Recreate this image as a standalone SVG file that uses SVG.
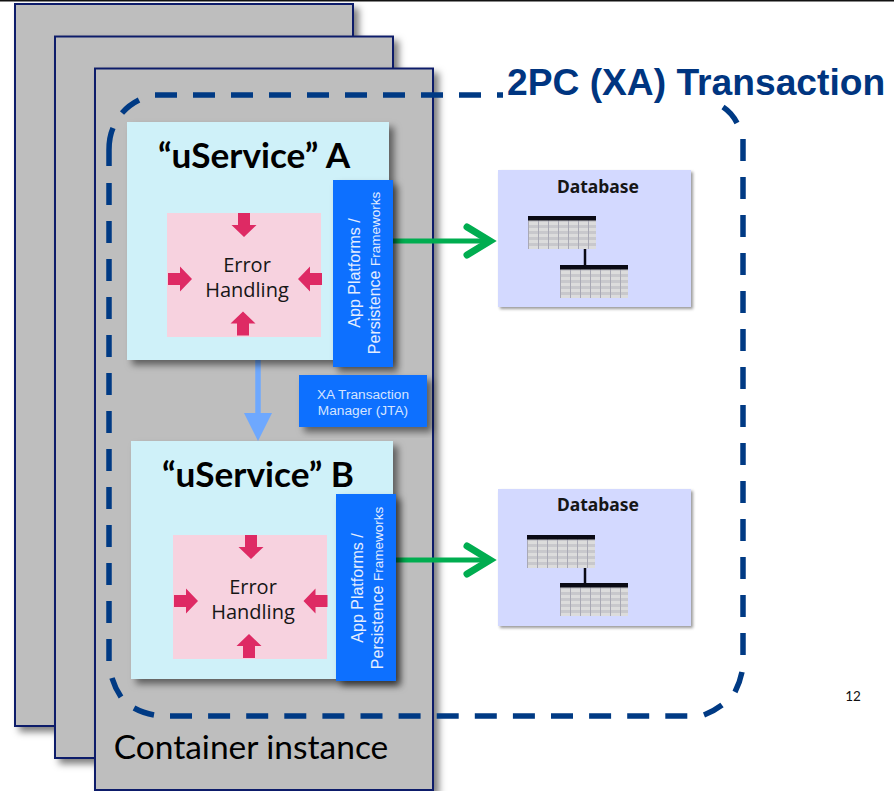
<svg xmlns="http://www.w3.org/2000/svg" width="894" height="791" viewBox="0 0 894 791">
<defs>
<filter id="sh" x="-20%" y="-20%" width="140%" height="140%"><feDropShadow dx="5" dy="5" stdDeviation="3.5" flood-color="#000" flood-opacity="0.5"/></filter>
<filter id="shl" x="-20%" y="-20%" width="140%" height="140%"><feDropShadow dx="2" dy="2" stdDeviation="1.5" flood-color="#000" flood-opacity="0.4"/></filter>
<pattern id="grid" width="10" height="6" patternUnits="userSpaceOnUse"><rect width="10" height="6" fill="#dcdcdc"/><rect y="3" width="10" height="3" fill="#c8c8cc"/><rect width="1" height="6" fill="#a9a9b5"/></pattern>
<g id="ar"><path d="M-6 -12H6V0H12.5L0 12L-12.5 0H-6Z" fill="#de2a64"/></g>
<g id="tbl"><rect x="0" y="0" width="68" height="33" fill="url(#grid)"/><rect x="0" y="0" width="68" height="4.5" fill="#0a0a14"/></g>
</defs>
<style>
.ct{fill:#bebebe;stroke:#0f1f6b;stroke-width:2;filter:url(#sh)}
.sv{fill:#cff1f9;filter:url(#sh)}
.eh{fill:#f7d2df}
.bl{fill:#0f6fff;filter:url(#sh)}
.db{fill:#d3d9ff;filter:url(#shl)}
.t1{font:700 35.2px Lato,"Liberation Sans",sans-serif;fill:#000;text-anchor:middle}
.t2{font:20px "Open Sans","Noto Sans",sans-serif;fill:#161616;text-anchor:middle}
.t3{font:16px "Liberation Sans",Arial,sans-serif;fill:#e3edff;text-anchor:middle}
.t4{font:13.7px "Liberation Sans",Arial,sans-serif;fill:#d5e4ff;text-anchor:middle}
.t5{font:700 17.5px "Noto Sans",sans-serif;fill:#161616;text-anchor:middle}
.gl{fill:none;stroke:#00ad50;stroke-width:5}
.gh{fill:none;stroke:#00ad50;stroke-width:7;stroke-linecap:round}
.ds{fill:none;stroke:#003a84;stroke-width:5.5}
.dd{stroke-dasharray:22 16}
</style>
<rect width="894" height="791" fill="#fff"/>
<rect x="0" y="0" width="894" height="1.5" fill="#111"/>
<g id="container-3"><rect class="ct" x="15" y="4" width="338" height="722"/></g>
<g id="container-2"><rect class="ct" x="55" y="36.5" width="338" height="721.5"/></g>
<g id="container-1"><rect class="ct" x="95" y="68.5" width="338" height="721.5"/><text x="251" y="759" font-family="Lato,'Liberation Sans',sans-serif" font-size="33.5" fill="#000" text-anchor="middle">Container instance</text></g>
<g id="connectors">
<path class="ds dd" d="M155 95H503"/>
<path class="ds dd" d="M743 139V656"/>
<path class="ds" style="stroke-dasharray:22 16.1" d="M170 716H688"/>
<path class="ds dd" d="M109 183V662"/>
<path class="ds" d="M109 166V150Q109 137 113 128"/>
<path class="ds" d="M122 113Q129 105 139 100"/>
<path class="ds" d="M723 107Q732 113 737 123"/>
<path class="ds" d="M742 672Q740 682 735 692"/>
<path class="ds" d="M722 705Q714 711 704 715"/>
<path class="ds" d="M112 678Q115 688 121 697"/>
<path class="ds" d="M134 708Q143 713 154 715"/>
<path d="M258 360V415" stroke="#6ea8fe" stroke-width="5.5" fill="none"/>
<path d="M244 413H272L258 441Z" fill="#6ea8fe"/>
<path class="gl" d="M393 241H490"/><path class="gh" d="M467 227L490 241L467 255"/>
<path class="gl" d="M396 560H490"/><path class="gh" d="M467 546L490 560L467 574"/>
</g>
<g id="title"><text x="507" y="95" font-family="'Liberation Sans',Arial,sans-serif" font-weight="700" font-size="37.2" fill="#003580">2PC (XA) Transaction</text></g>
<g id="uservice-a">
<rect class="sv" x="127" y="122" width="262" height="238"/>
<text class="t1" x="254" y="168">“uService” A</text>
<rect class="eh" x="167" y="213" width="154" height="124"/>
<use href="#ar" x="244" y="225"/>
<use href="#ar" transform="translate(180,279) rotate(-90)"/>
<use href="#ar" transform="translate(310,279) rotate(90)"/>
<use href="#ar" transform="translate(243,323.5) rotate(180)"/>
<text class="t2" x="247" y="272">Error</text><text class="t2" x="247" y="297">Handling</text>
<rect class="bl" x="333" y="180" width="60" height="187"/>
<text class="t3" transform="translate(360,273) rotate(-90)"><tspan x="0" y="0">App Platforms /</tspan><tspan x="0" dy="20">Persistence <tspan font-size="13.5">Frameworks</tspan></tspan></text>
</g>
<g id="uservice-b">
<rect class="sv" x="131" y="441" width="262" height="238"/>
<text class="t1" x="258" y="487">“uService” B</text>
<rect class="eh" x="173" y="535" width="154" height="124"/>
<use href="#ar" x="251" y="547"/>
<use href="#ar" transform="translate(186,601) rotate(-90)"/>
<use href="#ar" transform="translate(315.5,601) rotate(90)"/>
<use href="#ar" transform="translate(249,646) rotate(180)"/>
<text class="t2" x="253" y="594">Error</text><text class="t2" x="253" y="619">Handling</text>
<rect class="bl" x="336" y="494" width="60" height="187"/>
<text class="t3" transform="translate(363,588) rotate(-90)"><tspan x="0" y="0">App Platforms /</tspan><tspan x="0" dy="20">Persistence <tspan font-size="13.5">Frameworks</tspan></tspan></text>
</g>
<g id="tm"><rect class="bl" x="299" y="375" width="128" height="52"/><text class="t4" x="363" y="399">XA Transaction</text><text class="t4" x="363" y="415">Manager (JTA)</text></g>
<g id="database-1">
<rect class="db" x="498" y="170" width="193" height="137"/>
<text class="t5" x="598" y="193">Database</text>
<use href="#tbl" x="528" y="216"/><use href="#tbl" x="560" y="265"/>
<path d="M585 249V266" stroke="#0a0a14" stroke-width="2.5"/>
</g>
<g id="database-2">
<rect class="db" x="498" y="489" width="193" height="137"/>
<text class="t5" x="598" y="511">Database</text>
<use href="#tbl" x="527" y="535"/><use href="#tbl" x="560" y="583"/>
<path d="M585 568V584" stroke="#0a0a14" stroke-width="2.5"/>
</g>
<text x="853" y="701" font-family="Lato,'Liberation Sans',sans-serif" font-size="13.5" fill="#111" text-anchor="middle">12</text>
</svg>
